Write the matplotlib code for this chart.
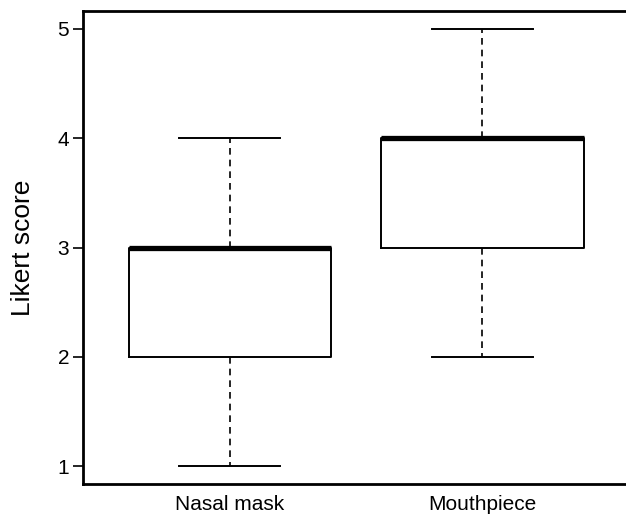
import matplotlib.pyplot as plt

plt.rcParams['font.family'] = ['Liberation Sans', 'DejaVu Sans']

groups = ['Nasal mask', 'Mouthpiece']
mins = [1, 2]
q1s = [2, 3]
medians = [3, 4]
q3s = [3, 4]
maxs = [4, 5]

stats = []
for g, lo, a, m, b, hi in zip(groups, mins, q1s, medians, q3s, maxs):
    stats.append({'label': g, 'whislo': lo, 'q1': a, 'med': m, 'q3': b, 'whishi': hi, 'fliers': []})

fig = plt.figure(figsize=(6.26, 5.17), dpi=100)
ax = fig.add_axes([83 / 626, 33 / 517, 546 / 626, 473 / 517])

ax.bxp(stats, positions=[1, 2], widths=0.8, showfliers=False,
       boxprops=dict(color='black', linewidth=1.4),
       medianprops=dict(color='black', linewidth=3.8, solid_capstyle='butt'),
       whiskerprops=dict(color='black', linewidth=1.2, linestyle=(0, (4, 3))),
       capprops=dict(color='black', linewidth=1.4),
       capwidths=0.4)

ax.set_xlim(0.42, 2.58)
ax.set_ylim(0.84, 5.16)
ax.set_yticks([1, 2, 3, 4, 5])
ax.set_xticks([1, 2])
ax.set_xticklabels(groups)
ax.tick_params(axis='y', length=7, width=1.2, labelsize=15, pad=3)
ax.tick_params(axis='x', length=0, labelsize=15, pad=8)
for s in ax.spines.values():
    s.set_linewidth(2)
ax.set_ylabel('Likert score', fontsize=19, labelpad=16)

fig.savefig('out.png', dpi=100)
